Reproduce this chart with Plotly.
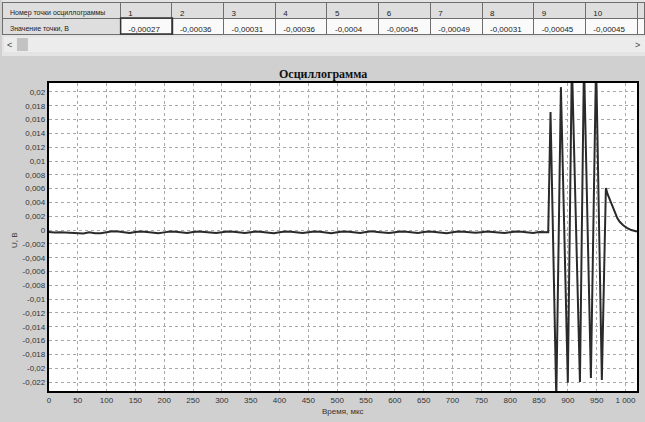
import plotly.graph_objects as go

W, H = 645, 422

# ---------------- data ----------------
table_numbers = ["1", "2", "3", "4", "5", "6", "7", "8", "9", "10", "11"]
table_values = ["-0,00027", "-0,00036", "-0,00031", "-0,00036", "-0,0004",
                "-0,00045", "-0,00049", "-0,00031", "-0,00045", "-0,00045", "-0,00040"]

baseline_t = list(range(0, 870, 10))
baseline_v = [
    -0.00027, -0.00036, -0.00031, -0.00036, -0.00040, -0.00045, -0.00049, -0.00031, -0.00045, -0.00045,
    -0.00030, -0.00018, -0.00022, -0.00035, -0.00042, -0.00028, -0.00020, -0.00026, -0.00038, -0.00044,
    -0.00033, -0.00021, -0.00025, -0.00037, -0.00041, -0.00029, -0.00019, -0.00027, -0.00039, -0.00043,
    -0.00031, -0.00022, -0.00024, -0.00036, -0.00042, -0.00030, -0.00020, -0.00026, -0.00038, -0.00045,
    -0.00032, -0.00021, -0.00023, -0.00035, -0.00043, -0.00031, -0.00019, -0.00025, -0.00037, -0.00044,
    -0.00030, -0.00020, -0.00024, -0.00036, -0.00041, -0.00028, -0.00018, -0.00026, -0.00039, -0.00043,
    -0.00031, -0.00022, -0.00025, -0.00037, -0.00042, -0.00029, -0.00020, -0.00027, -0.00038, -0.00044,
    -0.00032, -0.00021, -0.00024, -0.00035, -0.00040, -0.00030, -0.00019, -0.00026, -0.00037, -0.00043,
    -0.00031, -0.00022, -0.00025, -0.00036, -0.00041, -0.00029, -0.00030,
]

burst_t = [866, 868, 870, 880, 888, 900, 907, 921, 928, 940, 949, 959, 966,
           969, 973, 978, 982, 986, 990, 996, 1003, 1010, 1020]
burst_v = [-0.0003, 0.0083, 0.0171, -0.0245, 0.0207, -0.0221, 0.0245, -0.0220,
           0.0245, -0.0214, 0.0245, -0.0217, 0.0061,
           0.0052, 0.0044, 0.0033, 0.0025, 0.0017, 0.0012, 0.0007, 0.0003, 0.0000, -0.0002]

x_tickvals = list(range(0, 1001, 50))
x_ticktext = ["0", "50", "100", "150", "200", "250", "300", "350", "400", "450", "500",
              "550", "600", "650", "700", "750", "800", "850", "900", "950", "1 000"]
y_tickvals = [0.02, 0.018, 0.016, 0.014, 0.012, 0.01, 0.008, 0.006, 0.004, 0.002, 0.0,
              -0.002, -0.004, -0.006, -0.008, -0.01, -0.012, -0.014, -0.016, -0.018, -0.02, -0.022]
y_ticktext = ["0,02", "0,018", "0,016", "0,014", "0,012", "0,01", "0,008", "0,006", "0,004",
              "0,002", "0", "-0,002", "-0,004", "-0,006", "-0,008", "-0,01", "-0,012", "-0,014",
              "-0,016", "-0,018", "-0,02", "-0,022"]

row_labels = ["Номер точки осциллограммы", "Значение точки, В"]

# ---------------- helpers ----------------
def px(x):
    return x / W

def py(y):
    return 1 - y / H

FONT = "Liberation Sans, Arial, sans-serif"

t_all = baseline_t + burst_t
v_all = baseline_v + burst_v

fig = go.Figure()

font_sizes = [7] + [8] * len(table_numbers)

# table
fig.add_trace(go.Table(
    domain=dict(x=[0, 1], y=[py(36), py(2)]),
    columnwidth=[119] + [52] * 10 + [8],
    header=dict(
        values=[row_labels[0]] + table_numbers,
        fill_color="#dedede",
        line=dict(color="#6e6e6e", width=1),
        align="left",
        height=16,
        font=dict(family=FONT, size=font_sizes, color="#222"),
    ),
    cells=dict(
        values=[[row_labels[1]]] + [[v] for v in table_values],
        fill_color=[["#dedede"]] + [["#fafafa"]] * len(table_values),
        line=dict(color="#6e6e6e", width=1),
        align="left",
        height=16,
        font=dict(family=FONT, size=font_sizes, color="#222"),
    ),
))

# signal
fig.add_trace(go.Scatter(
    x=t_all, y=v_all, mode="lines",
    line=dict(color="#2a2a2a", width=2),
    showlegend=False, hoverinfo="skip",
))

shapes = [
    dict(type="rect", xref="paper", yref="paper", x0=0, x1=1, y0=py(56), y1=1,
         fillcolor="#e4e4e4", line=dict(width=0), layer="below"),
    dict(type="rect", xref="paper", yref="paper", x0=px(2), x1=px(645), y0=py(52), y1=py(37),
         fillcolor="#ececec", line=dict(width=0), layer="below"),
    dict(type="rect", xref="paper", yref="paper", x0=px(15), x1=px(26), y0=py(51), y1=py(38),
         fillcolor="#c2c2c2", line=dict(width=0), layer="above"),
    dict(type="rect", xref="paper", yref="paper", x0=px(119), x1=px(171), y0=py(34), y1=py(18),
         fillcolor="rgba(0,0,0,0)", line=dict(color="#333", width=1.5), layer="above"),
]

annotations = [
    dict(text="<b>Осциллограмма</b>", x=px(322), y=py(74), xref="paper", yref="paper",
         showarrow=False, font=dict(family="Liberation Serif, Times New Roman, serif", size=12, color="#111"),
         xanchor="center", yanchor="middle"),
    dict(text="U, В", x=px(12), y=py(240), xref="paper", yref="paper", textangle=-90,
         showarrow=False, font=dict(family=FONT, size=8, color="#333"),
         xanchor="center", yanchor="middle"),
    dict(text="Время, мкс", x=px(342), y=py(411), xref="paper", yref="paper",
         showarrow=False, font=dict(family=FONT, size=8, color="#333"),
         xanchor="center", yanchor="middle"),
    dict(text="<", x=px(8), y=py(45), xref="paper", yref="paper",
         showarrow=False, font=dict(family=FONT, size=9, color="#444"),
         xanchor="center", yanchor="middle"),
    dict(text=">", x=px(637), y=py(45), xref="paper", yref="paper",
         showarrow=False, font=dict(family=FONT, size=9, color="#444"),
         xanchor="center", yanchor="middle"),
]

fig.update_layout(
    width=W, height=H,
    margin=dict(l=0, r=0, t=0, b=0),
    paper_bgcolor="#d0d0d0",
    plot_bgcolor="white",
    showlegend=False,
    shapes=shapes,
    annotations=annotations,
    xaxis=dict(
        domain=[px(47), px(637)],
        range=[0, 1020],
        tickvals=x_tickvals, ticktext=x_ticktext,
        tickfont=dict(family=FONT, size=8, color="#333"),
        showgrid=True, gridcolor="#a8a8a8", griddash="dot", gridwidth=1,
        zeroline=False,
        showline=True, mirror=True, linecolor="black", linewidth=2,
        ticks="",
        fixedrange=True,
    ),
    yaxis=dict(
        domain=[py(391), py(83)],
        range=[-0.0233, 0.0213],
        tickvals=y_tickvals, ticktext=y_ticktext,
        tickfont=dict(family=FONT, size=8, color="#333"),
        showgrid=True, gridcolor="#a8a8a8", griddash="dot", gridwidth=1,
        zeroline=False,
        showline=True, mirror=True, linecolor="black", linewidth=2,
        ticks="",
        fixedrange=True,
    ),
)

fig.write_html(
    "out.html",
    config={"displayModeBar": False},
    post_script="document.body.style.margin='0';document.body.style.overflow='hidden';",
)
